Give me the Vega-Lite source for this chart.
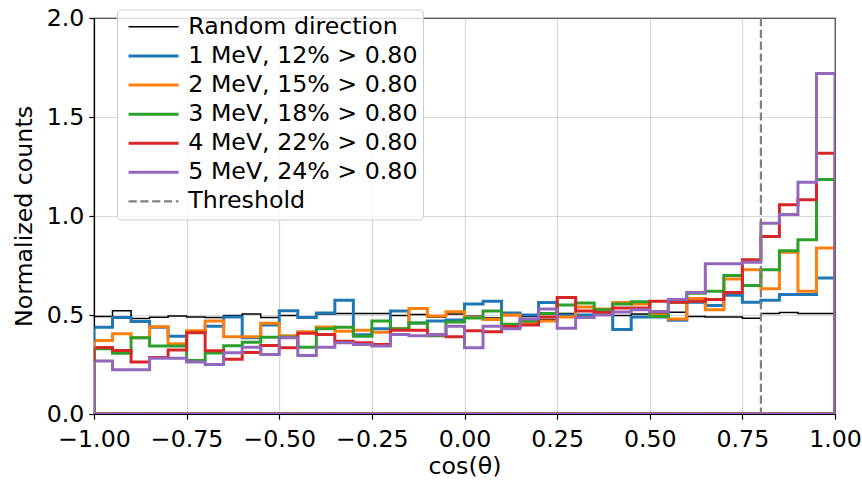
{
  "$schema": "https://vega.github.io/schema/vega-lite/v6.json",
  "width": 741,
  "height": 396,
  "autosize": {"type": "none"},
  "padding": {"left": 94, "top": 18, "right": 27, "bottom": 69},
  "config": {
    "font": "DejaVu Sans",
    "view": {"stroke": "black", "strokeWidth": 1.2},
    "axis": {
      "labelFont": "DejaVu Sans", "labelFontSize": 23.7, "labelColor": "black",
      "titleFont": "DejaVu Sans", "titleFontSize": 23.7, "titleFontWeight": "normal", "titleColor": "black",
      "tickColor": "black", "tickSize": 5.2, "tickWidth": 1.2,
      "domainColor": "black", "domainWidth": 1.2,
      "gridColor": "#b0b0b0", "gridOpacity": 0.5, "gridWidth": 1.2,
      "labelPadding": 5, "labelFlush": false, "labelOverlap": false,
      "zindex": 1
    }
  },
  "datasets": {
    "hist": [
      {"series":"Random direction","lo":-1,"hi":-0.95,"density":0.492},
      {"series":"Random direction","lo":-0.95,"hi":-0.9,"density":0.522},
      {"series":"Random direction","lo":-0.9,"hi":-0.85,"density":0.482},
      {"series":"Random direction","lo":-0.85,"hi":-0.8,"density":0.489},
      {"series":"Random direction","lo":-0.8,"hi":-0.75,"density":0.495},
      {"series":"Random direction","lo":-0.75,"hi":-0.7,"density":0.49},
      {"series":"Random direction","lo":-0.7,"hi":-0.65,"density":0.488},
      {"series":"Random direction","lo":-0.65,"hi":-0.6,"density":0.497},
      {"series":"Random direction","lo":-0.6,"hi":-0.55,"density":0.505},
      {"series":"Random direction","lo":-0.55,"hi":-0.5,"density":0.488},
      {"series":"Random direction","lo":-0.5,"hi":-0.45,"density":0.497},
      {"series":"Random direction","lo":-0.45,"hi":-0.4,"density":0.49},
      {"series":"Random direction","lo":-0.4,"hi":-0.35,"density":0.505},
      {"series":"Random direction","lo":-0.35,"hi":-0.3,"density":0.508},
      {"series":"Random direction","lo":-0.3,"hi":-0.25,"density":0.508},
      {"series":"Random direction","lo":-0.25,"hi":-0.2,"density":0.508},
      {"series":"Random direction","lo":-0.2,"hi":-0.15,"density":0.497},
      {"series":"Random direction","lo":-0.15,"hi":-0.1,"density":0.502},
      {"series":"Random direction","lo":-0.1,"hi":-0.05,"density":0.49},
      {"series":"Random direction","lo":-0.05,"hi":0,"density":0.505},
      {"series":"Random direction","lo":0,"hi":0.05,"density":0.494},
      {"series":"Random direction","lo":0.05,"hi":0.1,"density":0.485},
      {"series":"Random direction","lo":0.1,"hi":0.15,"density":0.497},
      {"series":"Random direction","lo":0.15,"hi":0.2,"density":0.493},
      {"series":"Random direction","lo":0.2,"hi":0.25,"density":0.477},
      {"series":"Random direction","lo":0.25,"hi":0.3,"density":0.507},
      {"series":"Random direction","lo":0.3,"hi":0.35,"density":0.493},
      {"series":"Random direction","lo":0.35,"hi":0.4,"density":0.51},
      {"series":"Random direction","lo":0.4,"hi":0.45,"density":0.498},
      {"series":"Random direction","lo":0.45,"hi":0.5,"density":0.505},
      {"series":"Random direction","lo":0.5,"hi":0.55,"density":0.505},
      {"series":"Random direction","lo":0.55,"hi":0.6,"density":0.514},
      {"series":"Random direction","lo":0.6,"hi":0.65,"density":0.493},
      {"series":"Random direction","lo":0.65,"hi":0.7,"density":0.49},
      {"series":"Random direction","lo":0.7,"hi":0.75,"density":0.49},
      {"series":"Random direction","lo":0.75,"hi":0.8,"density":0.483},
      {"series":"Random direction","lo":0.8,"hi":0.85,"density":0.507},
      {"series":"Random direction","lo":0.85,"hi":0.9,"density":0.512},
      {"series":"Random direction","lo":0.9,"hi":0.95,"density":0.508},
      {"series":"Random direction","lo":0.95,"hi":1,"density":0.508},

      {"series":"1 MeV, 12% > 0.80","lo":-1,"hi":-0.95,"density":0.438},
      {"series":"1 MeV, 12% > 0.80","lo":-0.95,"hi":-0.9,"density":0.488},
      {"series":"1 MeV, 12% > 0.80","lo":-0.9,"hi":-0.85,"density":0.467},
      {"series":"1 MeV, 12% > 0.80","lo":-0.85,"hi":-0.8,"density":0.438},
      {"series":"1 MeV, 12% > 0.80","lo":-0.8,"hi":-0.75,"density":0.393},
      {"series":"1 MeV, 12% > 0.80","lo":-0.75,"hi":-0.7,"density":0.415},
      {"series":"1 MeV, 12% > 0.80","lo":-0.7,"hi":-0.65,"density":0.443},
      {"series":"1 MeV, 12% > 0.80","lo":-0.65,"hi":-0.6,"density":0.49},
      {"series":"1 MeV, 12% > 0.80","lo":-0.6,"hi":-0.55,"density":0.385},
      {"series":"1 MeV, 12% > 0.80","lo":-0.55,"hi":-0.5,"density":0.45},
      {"series":"1 MeV, 12% > 0.80","lo":-0.5,"hi":-0.45,"density":0.522},
      {"series":"1 MeV, 12% > 0.80","lo":-0.45,"hi":-0.4,"density":0.487},
      {"series":"1 MeV, 12% > 0.80","lo":-0.4,"hi":-0.35,"density":0.51},
      {"series":"1 MeV, 12% > 0.80","lo":-0.35,"hi":-0.3,"density":0.575},
      {"series":"1 MeV, 12% > 0.80","lo":-0.3,"hi":-0.25,"density":0.40},
      {"series":"1 MeV, 12% > 0.80","lo":-0.25,"hi":-0.2,"density":0.43},
      {"series":"1 MeV, 12% > 0.80","lo":-0.2,"hi":-0.15,"density":0.52},
      {"series":"1 MeV, 12% > 0.80","lo":-0.15,"hi":-0.1,"density":0.46},
      {"series":"1 MeV, 12% > 0.80","lo":-0.1,"hi":-0.05,"density":0.47},
      {"series":"1 MeV, 12% > 0.80","lo":-0.05,"hi":0,"density":0.475},
      {"series":"1 MeV, 12% > 0.80","lo":0,"hi":0.05,"density":0.555},
      {"series":"1 MeV, 12% > 0.80","lo":0.05,"hi":0.1,"density":0.569},
      {"series":"1 MeV, 12% > 0.80","lo":0.1,"hi":0.15,"density":0.51},
      {"series":"1 MeV, 12% > 0.80","lo":0.15,"hi":0.2,"density":0.50},
      {"series":"1 MeV, 12% > 0.80","lo":0.2,"hi":0.25,"density":0.563},
      {"series":"1 MeV, 12% > 0.80","lo":0.25,"hi":0.3,"density":0.50},
      {"series":"1 MeV, 12% > 0.80","lo":0.3,"hi":0.35,"density":0.50},
      {"series":"1 MeV, 12% > 0.80","lo":0.35,"hi":0.4,"density":0.51},
      {"series":"1 MeV, 12% > 0.80","lo":0.4,"hi":0.45,"density":0.427},
      {"series":"1 MeV, 12% > 0.80","lo":0.45,"hi":0.5,"density":0.49},
      {"series":"1 MeV, 12% > 0.80","lo":0.5,"hi":0.55,"density":0.49},
      {"series":"1 MeV, 12% > 0.80","lo":0.55,"hi":0.6,"density":0.474},
      {"series":"1 MeV, 12% > 0.80","lo":0.6,"hi":0.65,"density":0.565},
      {"series":"1 MeV, 12% > 0.80","lo":0.65,"hi":0.7,"density":0.548},
      {"series":"1 MeV, 12% > 0.80","lo":0.7,"hi":0.75,"density":0.60},
      {"series":"1 MeV, 12% > 0.80","lo":0.75,"hi":0.8,"density":0.564},
      {"series":"1 MeV, 12% > 0.80","lo":0.8,"hi":0.85,"density":0.574},
      {"series":"1 MeV, 12% > 0.80","lo":0.85,"hi":0.9,"density":0.603},
      {"series":"1 MeV, 12% > 0.80","lo":0.9,"hi":0.95,"density":0.603},
      {"series":"1 MeV, 12% > 0.80","lo":0.95,"hi":1,"density":0.687},

      {"series":"2 MeV, 15% > 0.80","lo":-1,"hi":-0.95,"density":0.371},
      {"series":"2 MeV, 15% > 0.80","lo":-0.95,"hi":-0.9,"density":0.405},
      {"series":"2 MeV, 15% > 0.80","lo":-0.9,"hi":-0.85,"density":0.385},
      {"series":"2 MeV, 15% > 0.80","lo":-0.85,"hi":-0.8,"density":0.441},
      {"series":"2 MeV, 15% > 0.80","lo":-0.8,"hi":-0.75,"density":0.355},
      {"series":"2 MeV, 15% > 0.80","lo":-0.75,"hi":-0.7,"density":0.42},
      {"series":"2 MeV, 15% > 0.80","lo":-0.7,"hi":-0.65,"density":0.47},
      {"series":"2 MeV, 15% > 0.80","lo":-0.65,"hi":-0.6,"density":0.39},
      {"series":"2 MeV, 15% > 0.80","lo":-0.6,"hi":-0.55,"density":0.39},
      {"series":"2 MeV, 15% > 0.80","lo":-0.55,"hi":-0.5,"density":0.458},
      {"series":"2 MeV, 15% > 0.80","lo":-0.5,"hi":-0.45,"density":0.395},
      {"series":"2 MeV, 15% > 0.80","lo":-0.45,"hi":-0.4,"density":0.415},
      {"series":"2 MeV, 15% > 0.80","lo":-0.4,"hi":-0.35,"density":0.44},
      {"series":"2 MeV, 15% > 0.80","lo":-0.35,"hi":-0.3,"density":0.418},
      {"series":"2 MeV, 15% > 0.80","lo":-0.3,"hi":-0.25,"density":0.423},
      {"series":"2 MeV, 15% > 0.80","lo":-0.25,"hi":-0.2,"density":0.413},
      {"series":"2 MeV, 15% > 0.80","lo":-0.2,"hi":-0.15,"density":0.43},
      {"series":"2 MeV, 15% > 0.80","lo":-0.15,"hi":-0.1,"density":0.533},
      {"series":"2 MeV, 15% > 0.80","lo":-0.1,"hi":-0.05,"density":0.495},
      {"series":"2 MeV, 15% > 0.80","lo":-0.05,"hi":0,"density":0.517},
      {"series":"2 MeV, 15% > 0.80","lo":0,"hi":0.05,"density":0.488},
      {"series":"2 MeV, 15% > 0.80","lo":0.05,"hi":0.1,"density":0.477},
      {"series":"2 MeV, 15% > 0.80","lo":0.1,"hi":0.15,"density":0.50},
      {"series":"2 MeV, 15% > 0.80","lo":0.15,"hi":0.2,"density":0.462},
      {"series":"2 MeV, 15% > 0.80","lo":0.2,"hi":0.25,"density":0.47},
      {"series":"2 MeV, 15% > 0.80","lo":0.25,"hi":0.3,"density":0.49},
      {"series":"2 MeV, 15% > 0.80","lo":0.3,"hi":0.35,"density":0.54},
      {"series":"2 MeV, 15% > 0.80","lo":0.35,"hi":0.4,"density":0.53},
      {"series":"2 MeV, 15% > 0.80","lo":0.4,"hi":0.45,"density":0.563},
      {"series":"2 MeV, 15% > 0.80","lo":0.45,"hi":0.5,"density":0.555},
      {"series":"2 MeV, 15% > 0.80","lo":0.5,"hi":0.55,"density":0.50},
      {"series":"2 MeV, 15% > 0.80","lo":0.55,"hi":0.6,"density":0.48},
      {"series":"2 MeV, 15% > 0.80","lo":0.6,"hi":0.65,"density":0.583},
      {"series":"2 MeV, 15% > 0.80","lo":0.65,"hi":0.7,"density":0.527},
      {"series":"2 MeV, 15% > 0.80","lo":0.7,"hi":0.75,"density":0.682},
      {"series":"2 MeV, 15% > 0.80","lo":0.75,"hi":0.8,"density":0.729},
      {"series":"2 MeV, 15% > 0.80","lo":0.8,"hi":0.85,"density":0.632},
      {"series":"2 MeV, 15% > 0.80","lo":0.85,"hi":0.9,"density":0.817},
      {"series":"2 MeV, 15% > 0.80","lo":0.9,"hi":0.95,"density":0.62},
      {"series":"2 MeV, 15% > 0.80","lo":0.95,"hi":1,"density":0.838},

      {"series":"3 MeV, 18% > 0.80","lo":-1,"hi":-0.95,"density":0.33},
      {"series":"3 MeV, 18% > 0.80","lo":-0.95,"hi":-0.9,"density":0.307},
      {"series":"3 MeV, 18% > 0.80","lo":-0.9,"hi":-0.85,"density":0.385},
      {"series":"3 MeV, 18% > 0.80","lo":-0.85,"hi":-0.8,"density":0.344},
      {"series":"3 MeV, 18% > 0.80","lo":-0.8,"hi":-0.75,"density":0.344},
      {"series":"3 MeV, 18% > 0.80","lo":-0.75,"hi":-0.7,"density":0.27},
      {"series":"3 MeV, 18% > 0.80","lo":-0.7,"hi":-0.65,"density":0.308},
      {"series":"3 MeV, 18% > 0.80","lo":-0.65,"hi":-0.6,"density":0.345},
      {"series":"3 MeV, 18% > 0.80","lo":-0.6,"hi":-0.55,"density":0.363},
      {"series":"3 MeV, 18% > 0.80","lo":-0.55,"hi":-0.5,"density":0.387},
      {"series":"3 MeV, 18% > 0.80","lo":-0.5,"hi":-0.45,"density":0.389},
      {"series":"3 MeV, 18% > 0.80","lo":-0.45,"hi":-0.4,"density":0.337},
      {"series":"3 MeV, 18% > 0.80","lo":-0.4,"hi":-0.35,"density":0.43},
      {"series":"3 MeV, 18% > 0.80","lo":-0.35,"hi":-0.3,"density":0.438},
      {"series":"3 MeV, 18% > 0.80","lo":-0.3,"hi":-0.25,"density":0.393},
      {"series":"3 MeV, 18% > 0.80","lo":-0.25,"hi":-0.2,"density":0.47},
      {"series":"3 MeV, 18% > 0.80","lo":-0.2,"hi":-0.15,"density":0.43},
      {"series":"3 MeV, 18% > 0.80","lo":-0.15,"hi":-0.1,"density":0.46},
      {"series":"3 MeV, 18% > 0.80","lo":-0.1,"hi":-0.05,"density":0.395},
      {"series":"3 MeV, 18% > 0.80","lo":-0.05,"hi":0,"density":0.465},
      {"series":"3 MeV, 18% > 0.80","lo":0,"hi":0.05,"density":0.485},
      {"series":"3 MeV, 18% > 0.80","lo":0.05,"hi":0.1,"density":0.52},
      {"series":"3 MeV, 18% > 0.80","lo":0.1,"hi":0.15,"density":0.453},
      {"series":"3 MeV, 18% > 0.80","lo":0.15,"hi":0.2,"density":0.47},
      {"series":"3 MeV, 18% > 0.80","lo":0.2,"hi":0.25,"density":0.508},
      {"series":"3 MeV, 18% > 0.80","lo":0.25,"hi":0.3,"density":0.55},
      {"series":"3 MeV, 18% > 0.80","lo":0.3,"hi":0.35,"density":0.56},
      {"series":"3 MeV, 18% > 0.80","lo":0.35,"hi":0.4,"density":0.527},
      {"series":"3 MeV, 18% > 0.80","lo":0.4,"hi":0.45,"density":0.556},
      {"series":"3 MeV, 18% > 0.80","lo":0.45,"hi":0.5,"density":0.567},
      {"series":"3 MeV, 18% > 0.80","lo":0.5,"hi":0.55,"density":0.493},
      {"series":"3 MeV, 18% > 0.80","lo":0.55,"hi":0.6,"density":0.565},
      {"series":"3 MeV, 18% > 0.80","lo":0.6,"hi":0.65,"density":0.61},
      {"series":"3 MeV, 18% > 0.80","lo":0.65,"hi":0.7,"density":0.62},
      {"series":"3 MeV, 18% > 0.80","lo":0.7,"hi":0.75,"density":0.70},
      {"series":"3 MeV, 18% > 0.80","lo":0.75,"hi":0.8,"density":0.649},
      {"series":"3 MeV, 18% > 0.80","lo":0.8,"hi":0.85,"density":0.729},
      {"series":"3 MeV, 18% > 0.80","lo":0.85,"hi":0.9,"density":0.825},
      {"series":"3 MeV, 18% > 0.80","lo":0.9,"hi":0.95,"density":0.88},
      {"series":"3 MeV, 18% > 0.80","lo":0.95,"hi":1,"density":1.184},

      {"series":"4 MeV, 22% > 0.80","lo":-1,"hi":-0.95,"density":0.336},
      {"series":"4 MeV, 22% > 0.80","lo":-0.95,"hi":-0.9,"density":0.321},
      {"series":"4 MeV, 22% > 0.80","lo":-0.9,"hi":-0.85,"density":0.262},
      {"series":"4 MeV, 22% > 0.80","lo":-0.85,"hi":-0.8,"density":0.285},
      {"series":"4 MeV, 22% > 0.80","lo":-0.8,"hi":-0.75,"density":0.323},
      {"series":"4 MeV, 22% > 0.80","lo":-0.75,"hi":-0.7,"density":0.41},
      {"series":"4 MeV, 22% > 0.80","lo":-0.7,"hi":-0.65,"density":0.32},
      {"series":"4 MeV, 22% > 0.80","lo":-0.65,"hi":-0.6,"density":0.277},
      {"series":"4 MeV, 22% > 0.80","lo":-0.6,"hi":-0.55,"density":0.31},
      {"series":"4 MeV, 22% > 0.80","lo":-0.55,"hi":-0.5,"density":0.346},
      {"series":"4 MeV, 22% > 0.80","lo":-0.5,"hi":-0.45,"density":0.334},
      {"series":"4 MeV, 22% > 0.80","lo":-0.45,"hi":-0.4,"density":0.408},
      {"series":"4 MeV, 22% > 0.80","lo":-0.4,"hi":-0.35,"density":0.401},
      {"series":"4 MeV, 22% > 0.80","lo":-0.35,"hi":-0.3,"density":0.368},
      {"series":"4 MeV, 22% > 0.80","lo":-0.3,"hi":-0.25,"density":0.36},
      {"series":"4 MeV, 22% > 0.80","lo":-0.25,"hi":-0.2,"density":0.351},
      {"series":"4 MeV, 22% > 0.80","lo":-0.2,"hi":-0.15,"density":0.423},
      {"series":"4 MeV, 22% > 0.80","lo":-0.15,"hi":-0.1,"density":0.423},
      {"series":"4 MeV, 22% > 0.80","lo":-0.1,"hi":-0.05,"density":0.40},
      {"series":"4 MeV, 22% > 0.80","lo":-0.05,"hi":0,"density":0.39},
      {"series":"4 MeV, 22% > 0.80","lo":0,"hi":0.05,"density":0.42},
      {"series":"4 MeV, 22% > 0.80","lo":0.05,"hi":0.1,"density":0.416},
      {"series":"4 MeV, 22% > 0.80","lo":0.1,"hi":0.15,"density":0.442},
      {"series":"4 MeV, 22% > 0.80","lo":0.15,"hi":0.2,"density":0.449},
      {"series":"4 MeV, 22% > 0.80","lo":0.2,"hi":0.25,"density":0.49},
      {"series":"4 MeV, 22% > 0.80","lo":0.25,"hi":0.3,"density":0.588},
      {"series":"4 MeV, 22% > 0.80","lo":0.3,"hi":0.35,"density":0.52},
      {"series":"4 MeV, 22% > 0.80","lo":0.35,"hi":0.4,"density":0.513},
      {"series":"4 MeV, 22% > 0.80","lo":0.4,"hi":0.45,"density":0.535},
      {"series":"4 MeV, 22% > 0.80","lo":0.45,"hi":0.5,"density":0.535},
      {"series":"4 MeV, 22% > 0.80","lo":0.5,"hi":0.55,"density":0.57},
      {"series":"4 MeV, 22% > 0.80","lo":0.55,"hi":0.6,"density":0.564},
      {"series":"4 MeV, 22% > 0.80","lo":0.6,"hi":0.65,"density":0.57},
      {"series":"4 MeV, 22% > 0.80","lo":0.65,"hi":0.7,"density":0.578},
      {"series":"4 MeV, 22% > 0.80","lo":0.7,"hi":0.75,"density":0.614},
      {"series":"4 MeV, 22% > 0.80","lo":0.75,"hi":0.8,"density":0.779},
      {"series":"4 MeV, 22% > 0.80","lo":0.8,"hi":0.85,"density":0.897},
      {"series":"4 MeV, 22% > 0.80","lo":0.85,"hi":0.9,"density":1.057},
      {"series":"4 MeV, 22% > 0.80","lo":0.9,"hi":0.95,"density":1.082},
      {"series":"4 MeV, 22% > 0.80","lo":0.95,"hi":1,"density":1.317},

      {"series":"5 MeV, 24% > 0.80","lo":-1,"hi":-0.95,"density":0.268},
      {"series":"5 MeV, 24% > 0.80","lo":-0.95,"hi":-0.9,"density":0.224},
      {"series":"5 MeV, 24% > 0.80","lo":-0.9,"hi":-0.85,"density":0.224},
      {"series":"5 MeV, 24% > 0.80","lo":-0.85,"hi":-0.8,"density":0.282},
      {"series":"5 MeV, 24% > 0.80","lo":-0.8,"hi":-0.75,"density":0.282},
      {"series":"5 MeV, 24% > 0.80","lo":-0.75,"hi":-0.7,"density":0.262},
      {"series":"5 MeV, 24% > 0.80","lo":-0.7,"hi":-0.65,"density":0.25},
      {"series":"5 MeV, 24% > 0.80","lo":-0.65,"hi":-0.6,"density":0.309},
      {"series":"5 MeV, 24% > 0.80","lo":-0.6,"hi":-0.55,"density":0.337},
      {"series":"5 MeV, 24% > 0.80","lo":-0.55,"hi":-0.5,"density":0.30},
      {"series":"5 MeV, 24% > 0.80","lo":-0.5,"hi":-0.45,"density":0.385},
      {"series":"5 MeV, 24% > 0.80","lo":-0.45,"hi":-0.4,"density":0.295},
      {"series":"5 MeV, 24% > 0.80","lo":-0.4,"hi":-0.35,"density":0.337},
      {"series":"5 MeV, 24% > 0.80","lo":-0.35,"hi":-0.3,"density":0.36},
      {"series":"5 MeV, 24% > 0.80","lo":-0.3,"hi":-0.25,"density":0.351},
      {"series":"5 MeV, 24% > 0.80","lo":-0.25,"hi":-0.2,"density":0.343},
      {"series":"5 MeV, 24% > 0.80","lo":-0.2,"hi":-0.15,"density":0.401},
      {"series":"5 MeV, 24% > 0.80","lo":-0.15,"hi":-0.1,"density":0.395},
      {"series":"5 MeV, 24% > 0.80","lo":-0.1,"hi":-0.05,"density":0.40},
      {"series":"5 MeV, 24% > 0.80","lo":-0.05,"hi":0,"density":0.443},
      {"series":"5 MeV, 24% > 0.80","lo":0,"hi":0.05,"density":0.334},
      {"series":"5 MeV, 24% > 0.80","lo":0.05,"hi":0.1,"density":0.443},
      {"series":"5 MeV, 24% > 0.80","lo":0.1,"hi":0.15,"density":0.43},
      {"series":"5 MeV, 24% > 0.80","lo":0.15,"hi":0.2,"density":0.48},
      {"series":"5 MeV, 24% > 0.80","lo":0.2,"hi":0.25,"density":0.53},
      {"series":"5 MeV, 24% > 0.80","lo":0.25,"hi":0.3,"density":0.433},
      {"series":"5 MeV, 24% > 0.80","lo":0.3,"hi":0.35,"density":0.488},
      {"series":"5 MeV, 24% > 0.80","lo":0.35,"hi":0.4,"density":0.50},
      {"series":"5 MeV, 24% > 0.80","lo":0.4,"hi":0.45,"density":0.515},
      {"series":"5 MeV, 24% > 0.80","lo":0.45,"hi":0.5,"density":0.527},
      {"series":"5 MeV, 24% > 0.80","lo":0.5,"hi":0.55,"density":0.518},
      {"series":"5 MeV, 24% > 0.80","lo":0.55,"hi":0.6,"density":0.578},
      {"series":"5 MeV, 24% > 0.80","lo":0.6,"hi":0.65,"density":0.614},
      {"series":"5 MeV, 24% > 0.80","lo":0.65,"hi":0.7,"density":0.759},
      {"series":"5 MeV, 24% > 0.80","lo":0.7,"hi":0.75,"density":0.759},
      {"series":"5 MeV, 24% > 0.80","lo":0.75,"hi":0.8,"density":0.766},
      {"series":"5 MeV, 24% > 0.80","lo":0.8,"hi":0.85,"density":0.964},
      {"series":"5 MeV, 24% > 0.80","lo":0.85,"hi":0.9,"density":1.007},
      {"series":"5 MeV, 24% > 0.80","lo":0.9,"hi":0.95,"density":1.17},
      {"series":"5 MeV, 24% > 0.80","lo":0.95,"hi":1,"density":1.72}
    ],
    "cut": [{"series": "Threshold", "cos": 0.8}]
  },
  "encoding": {
    "color": {
      "field": "series",
      "type": "nominal",
      "scale": {
        "domain": ["Random direction", "1 MeV, 12% > 0.80", "2 MeV, 15% > 0.80", "3 MeV, 18% > 0.80", "4 MeV, 22% > 0.80", "5 MeV, 24% > 0.80", "Threshold"],
        "range": ["#000000", "#1f77b4", "#ff7f0e", "#2ca02c", "#d62728", "#9467bd", "#808080"]
      },
      "legend": {
        "title": null,
        "orient": "none",
        "legendX": 23,
        "legendY": -8.5,
        "symbolType": "M-5,0H5",
        "symbolSize": 100,
        "symbolStrokeWidth": 3,
        "symbolOffset": 19.2,
        "labelOffset": 22.9,
        "labelFont": "DejaVu Sans",
        "labelFontSize": 23.7,
        "labelColor": "black",
        "labelLimit": 400,
        "padding": 5.5,
        "rowPadding": 4.1,
        "fillColor": "rgba(255,255,255,0.8)",
        "strokeColor": "#cccccc",
        "cornerRadius": 4,
        "encode": {
          "symbols": {
            "update": {
              "strokeWidth": {"signal": "datum.value === 'Random direction' ? 1.5 : datum.value === 'Threshold' ? 2.2 : 3"},
              "strokeDash": {"signal": "datum.value === 'Threshold' ? [8.2, 3.6] : null"}
            }
          }
        }
      }
    }
  },
  "layer": [
    {
      "data": {"name": "hist"},
      "mark": {"type": "rule", "clip": true},
      "encoding": {
        "x": {"field": "lo", "type": "quantitative", "title": "cos(θ)", "scale": {"domain": [-1, 1], "nice": false}},
        "x2": {"field": "hi"},
        "y": {"datum": 0, "type": "quantitative", "title": "Normalized counts", "scale": {"domain": [0, 2], "nice": false}},
        "strokeWidth": {"condition": {"test": "datum.series === 'Random direction'", "value": 1.5}, "value": 3}
      }
    },
    {
      "data": {"name": "hist"},
      "transform": [{"fold": ["lo", "hi"], "as": ["edge", "cos"]}],
      "mark": {"type": "line", "clip": true, "strokeJoin": "miter"},
      "encoding": {
        "x": {
          "field": "cos", "type": "quantitative", "title": "cos(θ)",
          "scale": {"domain": [-1, 1], "nice": false},
          "axis": {"values": [-1, -0.75, -0.5, -0.25, 0, 0.25, 0.5, 0.75, 1], "format": ".2f", "grid": true, "labelPadding": 8, "titlePadding": 3.5}
        },
        "y": {
          "field": "density", "type": "quantitative", "title": "Normalized counts",
          "scale": {"domain": [0, 2], "nice": false},
          "axis": {"values": [0, 0.5, 1, 1.5, 2], "format": ".1f", "grid": true, "titlePadding": 10}
        },
        "order": [{"field": "cos", "type": "quantitative"}, {"field": "lo", "type": "quantitative"}],
        "strokeWidth": {"condition": {"test": "datum.series === 'Random direction'", "value": 1.5}, "value": 3}
      }
    },
    {
      "data": {"name": "hist"},
      "transform": [{"filter": "datum.lo === -1"}],
      "mark": {"type": "rule", "clip": true},
      "encoding": {
        "x": {"field": "lo", "type": "quantitative", "title": "cos(θ)"},
        "y": {"field": "density", "type": "quantitative", "title": "Normalized counts"},
        "y2": {"datum": 0},
        "strokeWidth": {"condition": {"test": "datum.series === 'Random direction'", "value": 1.5}, "value": 3}
      }
    },
    {
      "data": {"name": "hist"},
      "transform": [{"filter": "datum.hi === 1"}],
      "mark": {"type": "rule", "clip": true},
      "encoding": {
        "x": {"field": "hi", "type": "quantitative", "title": "cos(θ)"},
        "y": {"field": "density", "type": "quantitative", "title": "Normalized counts"},
        "y2": {"datum": 0},
        "strokeWidth": {"condition": {"test": "datum.series === 'Random direction'", "value": 1.5}, "value": 3}
      }
    },
    {
      "data": {"name": "cut"},
      "mark": {"type": "rule", "strokeDash": [8.2, 3.6], "strokeWidth": 2.2},
      "encoding": {
        "x": {"field": "cos", "type": "quantitative", "title": "cos(θ)"}
      }
    }
  ]
}
